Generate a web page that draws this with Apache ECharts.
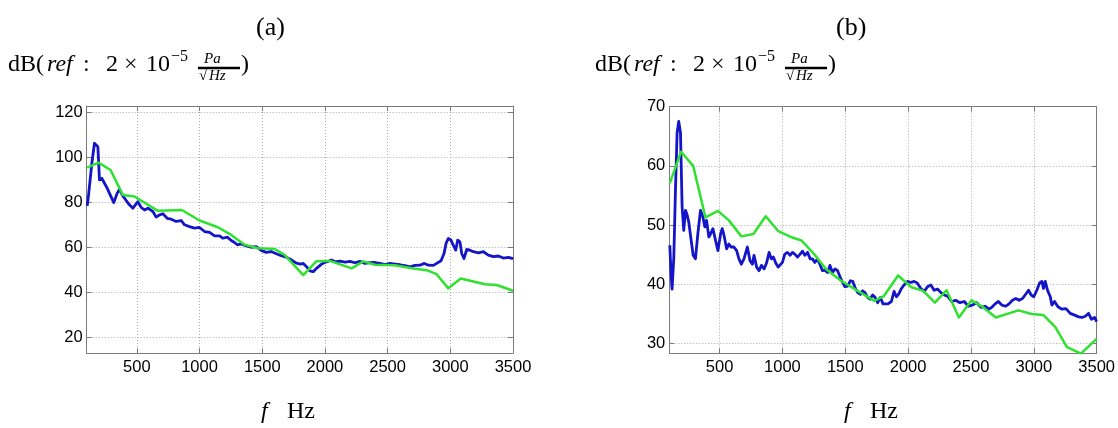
<!DOCTYPE html>
<html>
<head>
<meta charset="utf-8">
<script src="https://cdn.jsdelivr.net/npm/echarts@6/dist/echarts.min.js"></script>
<style>
  html, body { margin: 0; padding: 0; background: #ffffff; }
  #chart { width: 1118px; height: 428px; }
</style>
</head>
<body>
<div id="chart"></div>
<script>
// ---- Frequency axis (Hz) ----
const freqMin = 100;
const freqMax = 3500;
const freqTicks = [500, 1000, 1500, 2000, 2500, 3000, 3500];

// ---- Level axes (dB) ----
const levelRangeA = [13, 123];
const levelTicksA = [20, 40, 60, 80, 100, 120];
const levelRangeB = [28.35, 70];
const levelTicksB = [30, 40, 50, 60, 70];

// ---- Panel (a): measured spectrum (blue) ----
const freqA_measured = [104, 115, 141, 162, 175, 189, 202, 221, 242, 263, 282, 316, 343, 362, 388, 415, 441, 468, 508, 535,
  561, 588, 628, 654, 681, 708, 742, 774, 814, 854, 880, 920, 960, 1000, 1040, 1080, 1120, 1160, 1186, 1221,
  1253, 1279, 1301, 1333, 1372, 1412, 1452, 1492, 1532, 1572, 1612, 1652, 1692, 1732, 1772, 1806, 1827, 1854, 1880, 1907,
  1933, 1973, 2013, 2053, 2080, 2120, 2160, 2200, 2239, 2279, 2319, 2359, 2399, 2439, 2479, 2519, 2559, 2599, 2638, 2678,
  2718, 2758, 2793, 2825, 2865, 2891, 2926, 2950, 2966, 2984, 3005, 3024, 3043, 3059, 3077, 3091, 3109, 3131, 3157, 3184,
  3224, 3264, 3303, 3343, 3383, 3423, 3463, 3500];
const dbA_measured = [78.5, 83.4, 97.5, 106.4, 107.1, 104.9, 90.1, 90.8, 88.6, 86.4, 84.1, 80.0, 84.1, 85.9, 83.0, 80.9, 79.0, 77.5, 80.4, 77.8,
  76.7, 77.5, 76.0, 73.5, 74.5, 75.0, 73.0, 72.6, 71.6, 72.0, 70.1, 69.3, 68.6, 68.9, 67.1, 66.7, 65.2, 65.2, 64.1, 64.6,
  63.1, 62.2, 61.2, 61.6, 60.7, 60.1, 60.4, 58.7, 57.8, 58.2, 57.2, 56.3, 55.7, 54.5, 53.0, 52.6, 52.9, 51.4, 49.6, 49.2,
  50.7, 52.6, 53.6, 54.4, 53.6, 53.9, 53.5, 53.8, 53.2, 53.8, 52.9, 53.2, 53.3, 52.9, 52.4, 52.9, 52.6, 52.3, 51.9, 51.4,
  52.0, 52.1, 52.9, 52.1, 52.0, 52.9, 54.1, 57.3, 61.8, 64.0, 63.3, 61.0, 58.8, 63.3, 62.5, 57.3, 55.1, 59.1, 58.8, 58.1,
  57.6, 58.1, 56.6, 55.9, 56.2, 55.3, 55.6, 55.0];

// ---- Panel (a): model prediction (green) ----
const freqA_model = [104, 194, 290, 388, 481, 668, 859, 1000, 1146, 1253, 1359, 1466, 1599, 1678, 1827, 1933, 2040, 2213, 2306, 2400,
  2559, 2692, 2811, 2891, 2984, 3083, 3277, 3370, 3500];
const dbA_model = [95.6, 97.8, 94.5, 83.4, 82.7, 76.3, 76.7, 72.0, 69.0, 65.6, 61.2, 59.7, 59.3, 56.7, 47.7, 53.9, 54.0, 50.7, 53.8, 52.3,
  52.1, 50.7, 49.9, 48.1, 41.8, 46.2, 43.6, 43.3, 40.7];

// ---- Panel (b): measured spectrum (blue) ----
const freqB_measured = [104, 114, 122, 136, 149, 162, 175, 189, 202, 215, 229, 242, 255, 274, 290, 308, 327, 348, 367, 383,
  396, 415, 428, 447, 468, 487, 508, 521, 535, 556, 574, 593, 614, 636, 654, 673, 694, 721, 742, 761,
  774, 795, 814, 833, 854, 875, 894, 912, 928, 947, 966, 981, 1000, 1019, 1040, 1061, 1080, 1099, 1120, 1141,
  1160, 1178, 1200, 1221, 1239, 1258, 1279, 1298, 1319, 1338, 1359, 1378, 1399, 1418, 1439, 1460, 1479, 1498, 1519, 1540,
  1559, 1577, 1599, 1620, 1638, 1657, 1678, 1697, 1718, 1737, 1758, 1779, 1800, 1814, 1840, 1867, 1888, 1907, 1926, 1947,
  1968, 1995, 2021, 2048, 2074, 2101, 2128, 2154, 2181, 2207, 2234, 2261, 2287, 2314, 2346, 2378, 2412, 2447, 2479, 2511,
  2545, 2580, 2612, 2644, 2670, 2692, 2718, 2745, 2777, 2803, 2830, 2857, 2883, 2910, 2931, 2958, 2979, 3000, 3024, 3045,
  3064, 3077, 3091, 3109, 3131, 3144, 3165, 3192, 3224, 3256, 3290, 3325, 3357, 3383, 3410, 3436, 3458, 3484, 3500];
const dbB_measured = [46.6, 41.7, 39.2, 44.6, 55.9, 65.6, 67.5, 65.6, 53.1, 49.1, 52.5, 51.7, 50.5, 47.4, 44.9, 44.3, 48.5, 52.5, 51.4, 49.7,
  50.8, 48.0, 48.5, 49.4, 47.4, 45.7, 48.5, 49.4, 48.3, 46.0, 46.8, 46.3, 46.3, 45.7, 44.3, 43.4, 44.3, 46.3, 44.0, 43.4,
  44.9, 42.9, 42.3, 43.2, 42.6, 43.7, 45.4, 44.3, 44.6, 43.6, 42.9, 42.6, 43.7, 45.1, 45.4, 44.9, 45.4, 45.1, 44.6, 45.1,
  45.6, 44.9, 45.4, 44.3, 44.3, 43.7, 44.3, 43.4, 42.3, 42.4, 42.0, 43.2, 42.0, 42.6, 42.3, 41.2, 40.3, 39.6, 39.7, 40.6,
  40.5, 39.5, 38.6, 38.3, 38.9, 38.6, 37.8, 37.5, 38.2, 37.8, 36.9, 37.8, 36.7, 36.5, 36.7, 37.1, 38.8, 37.9, 38.4, 39.3,
  39.9, 40.5, 40.3, 40.5, 40.2, 39.3, 38.8, 39.6, 39.9, 39.0, 39.2, 38.6, 38.2, 38.0, 37.1, 37.3, 36.9, 37.1, 36.3, 36.5,
  36.9, 36.1, 36.3, 35.8, 36.2, 36.7, 37.1, 36.5, 36.3, 36.7, 37.3, 37.6, 37.3, 37.6, 38.2, 39.0, 38.2, 37.9, 39.0, 40.2,
  40.5, 39.3, 40.5, 39.0, 37.9, 36.5, 37.1, 36.2, 35.8, 35.9, 35.1, 34.8, 34.5, 34.4, 34.6, 35.1, 34.1, 34.4, 33.7];

// ---- Panel (b): model prediction (green) ----
const freqB_model = [104, 194, 290, 388, 487, 574, 673, 769, 867, 966, 1066, 1152, 1253, 1346, 1466, 1599, 1732, 1806, 1920, 2027,
  2120, 2213, 2306, 2404, 2505, 2599, 2697, 2878, 2984, 3077, 3170, 3264, 3375, 3500];
const dbB_model = [57.1, 62.4, 60.0, 51.3, 52.4, 50.8, 48.1, 48.5, 51.5, 49.0, 48.0, 47.4, 45.1, 42.6, 40.6, 38.9, 37.2, 38.0, 41.5, 39.5,
  38.9, 36.9, 39.0, 34.4, 37.3, 36.1, 34.4, 35.6, 35.0, 34.8, 32.8, 29.4, 28.3, 30.8];

const zip = (xs, ys) => xs.map((x, i) => [x, ys[i]]);

const BLUE = '#1414c8';
const GREEN = '#2fe22f';
const AXIS_GRAY = '#7a7a7a';
const GRID_GRAY = '#a8a8a8';
const TICK_FONT = 'Liberation Sans, Arial, sans-serif';
const SERIF = 'Liberation Serif, Times New Roman, serif';
const plain = (v) => String(v);

function bottomAxis(gridIndex) {
  return {
    type: 'value', gridIndex, position: 'bottom', min: freqMin, max: freqMax,
    axisLine: { show: true, onZero: false, lineStyle: { color: AXIS_GRAY, width: 1 } },
    axisTick: { show: true, inside: true, length: 5, customValues: freqTicks, lineStyle: { color: AXIS_GRAY } },
    axisLabel: { show: true, customValues: freqTicks, formatter: plain, margin: 6, color: '#000', fontSize: 16.5, fontFamily: TICK_FONT },
    splitLine: { show: true, lineStyle: { color: GRID_GRAY, type: [1, 2], width: 1 } }
  };
}
function topAxis(gridIndex) {
  return {
    type: 'value', gridIndex, position: 'top', min: freqMin, max: freqMax,
    axisLine: { show: true, onZero: false, lineStyle: { color: AXIS_GRAY, width: 1 } },
    axisTick: { show: true, inside: true, length: 5, customValues: freqTicks, lineStyle: { color: AXIS_GRAY } },
    axisLabel: { show: false },
    splitLine: { show: false }
  };
}
function leftAxis(gridIndex, range, ticks) {
  return {
    type: 'value', gridIndex, position: 'left', min: range[0], max: range[1],
    axisLine: { show: true, onZero: false, lineStyle: { color: AXIS_GRAY, width: 1 } },
    axisTick: { show: true, inside: true, length: 5, customValues: ticks, lineStyle: { color: AXIS_GRAY } },
    axisLabel: { show: true, customValues: ticks, formatter: plain, margin: 4, color: '#000', fontSize: 16.5, fontFamily: TICK_FONT },
    splitLine: { show: true, lineStyle: { color: GRID_GRAY, type: [1, 2], width: 1 } }
  };
}
function rightAxis(gridIndex, range, ticks) {
  return {
    type: 'value', gridIndex, position: 'right', min: range[0], max: range[1],
    axisLine: { show: true, onZero: false, lineStyle: { color: AXIS_GRAY, width: 1 } },
    axisTick: { show: true, inside: true, length: 5, customValues: ticks, lineStyle: { color: AXIS_GRAY } },
    axisLabel: { show: false },
    splitLine: { show: false }
  };
}

function lineSeries(xi, yi, data, color, width, z) {
  return {
    type: 'line', xAxisIndex: xi, yAxisIndex: yi, data, showSymbol: false, symbol: 'none',
    lineStyle: { color, width, join: 'round' }, z, animation: false, silent: true
  };
}

// Axis-label text pieces: dB(ref : 2 × 10^-5 Pa/√Hz), placed at offset dx
function unitLabel(dx) {
  const t = (x, y, text, size, italic) => ({
    type: 'text', left: x + dx, top: y, silent: true,
    style: { text, fontSize: size, fontFamily: SERIF, fontStyle: italic ? 'italic' : 'normal', fill: '#000' }
  });
  return [
    t(8, 53, 'dB(', 24, false),
    t(47, 53, 'ref', 24, true),
    t(83, 53, ':', 24, false),
    t(106, 53, '2', 24, false),
    t(124, 53, '×', 24, false),
    t(146, 53, '10', 24, false),
    t(171, 49, '−5', 16, false),
    t(204, 52, 'Pa', 15, true),
    {
      type: 'line', silent: true,
      shape: { x1: 198 + dx, y1: 68, x2: 240 + dx, y2: 68 },
      style: { stroke: '#000', lineWidth: 2.5 }
    },
    t(199, 69, '√', 15, false),
    t(209, 69, 'Hz', 15, true),
    t(241, 53, ')', 24, false)
  ];
}

function freqLabel(x) {
  return [
    { type: 'text', left: x, top: 400, silent: true,
      style: { text: 'f', fontSize: 24, fontFamily: SERIF, fontStyle: 'italic', fill: '#000' } },
    { type: 'text', left: x + 26, top: 400, silent: true,
      style: { text: 'Hz', fontSize: 24, fontFamily: SERIF, fill: '#000' } }
  ];
}

const chart = echarts.init(document.getElementById('chart'), null, { renderer: 'canvas' });
chart.setOption({
  backgroundColor: '#ffffff',
  animation: false,
  grid: [
    { left: 86.7, top: 106, width: 426.3, height: 247, containLabel: false },
    { left: 669.3, top: 106.7, width: 427.4, height: 246.6, containLabel: false }
  ],
  xAxis: [bottomAxis(0), topAxis(0), bottomAxis(1), topAxis(1)],
  yAxis: [
    leftAxis(0, levelRangeA, levelTicksA), rightAxis(0, levelRangeA, levelTicksA),
    leftAxis(1, levelRangeB, levelTicksB), rightAxis(1, levelRangeB, levelTicksB)
  ],
  series: [
    lineSeries(0, 0, zip(freqA_measured, dbA_measured), BLUE, 2.8, 2),
    lineSeries(0, 0, zip(freqA_model, dbA_model), GREEN, 2.5, 3),
    lineSeries(2, 2, zip(freqB_measured, dbB_measured), BLUE, 2.8, 2),
    lineSeries(2, 2, zip(freqB_model, dbB_model), GREEN, 2.5, 3)
  ],
  graphic: [
    { type: 'text', left: 256, top: 15, silent: true,
      style: { text: '(a)', fontSize: 26, fontFamily: SERIF, fill: '#000' } },
    { type: 'text', left: 836, top: 15, silent: true,
      style: { text: '(b)', fontSize: 26, fontFamily: SERIF, fill: '#000' } },
    ...unitLabel(0),
    ...unitLabel(587),
    ...freqLabel(261),
    ...freqLabel(844)
  ]
});
</script>
</body>
</html>
